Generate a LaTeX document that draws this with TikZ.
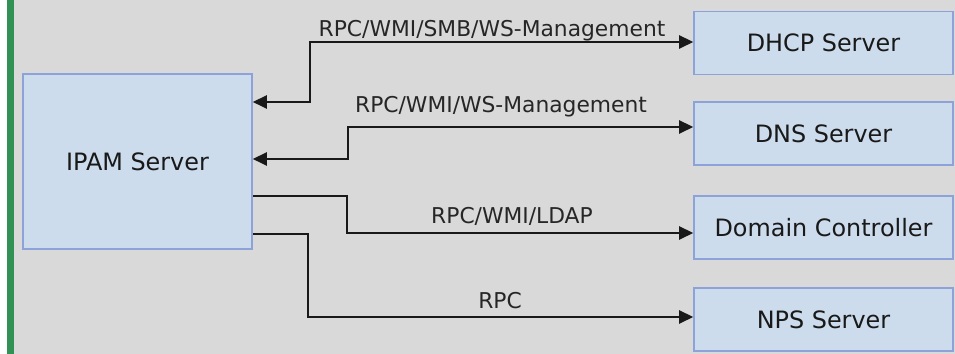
\documentclass[tikz,border=0pt]{standalone}
\usepackage{fontspec}
\setmainfont{DejaVu Sans}
\usepackage{tikz}
\usetikzlibrary{calc,arrows.meta}
\usepackage{xcolor}
\definecolor{bggray}{RGB}{217,217,217}
\definecolor{boxfill}{RGB}{204,220,236}
\definecolor{boxline}{RGB}{140,162,216}
\definecolor{bargreen}{RGB}{50,145,85}

\begin{document}
\begin{tikzpicture}[
    server/.style={draw=boxline,fill=boxfill,line width=0.9pt,inner sep=0pt,
      minimum width=5.18cm,minimum height=1.26cm,text=black!90,
      font=\fontsize{13.6pt}{16pt}\selectfont},
    proto/.style={anchor=base,text=black!85,font=\fontsize{12.4pt}{15pt}\selectfont},
    link/.style={line width=1.4pt,black!90,line join=miter},
    >={Triangle[length=0.28cm,width=0.26cm]}
  ]
    \useasboundingbox (0,0) rectangle (19.1,-7.08);
    \fill[white] (0,0) rectangle (0.15,-7.08);
    \fill[bargreen] (0.15,0) rectangle (0.28,-7.08);
    \fill[bggray] (0.28,0) rectangle (19.1,-7.08);

    \node[server,minimum width=4.58cm,minimum height=3.5cm] (ipam) at (2.75,-3.23) {IPAM Server};

    \node[server] (dhcp) at (16.47,-0.86) {DHCP Server};
    \node[server] (dns) at (16.47,-2.67) {DNS Server};
    \node[server] (dc) at (16.47,-4.55) {Domain Controller};
    \node[server] (nps) at (16.47,-6.39) {NPS Server};

    \draw[link,<->] (ipam.east |- 0,-2.04) -- (6.2,-2.04) |- (dhcp.west |- 0,-0.84);
    \draw[link,<->] (ipam.east |- 0,-3.18) -- (6.96,-3.18) |- (dns.west |- 0,-2.54);
    \draw[link,->] (ipam.east |- 0,-3.92) -- (6.94,-3.92) |- (dc.west |- 0,-4.66);
    \draw[link,->] (ipam.east |- 0,-4.68) -- (6.16,-4.68) |- (nps.west |- 0,-6.34);

    \node[proto] (smb) at (9.84,-0.74) {RPC/WMI/SMB/WS-Management};
    \node[proto] (wsm) at (10.02,-2.26) {RPC/WMI/WS-Management};
    \node[proto] (ldap) at (10.24,-4.48) {RPC/WMI/LDAP};
    \node[proto] (rpc) at (10.0,-6.18) {RPC};

\end{tikzpicture}
\end{document}
